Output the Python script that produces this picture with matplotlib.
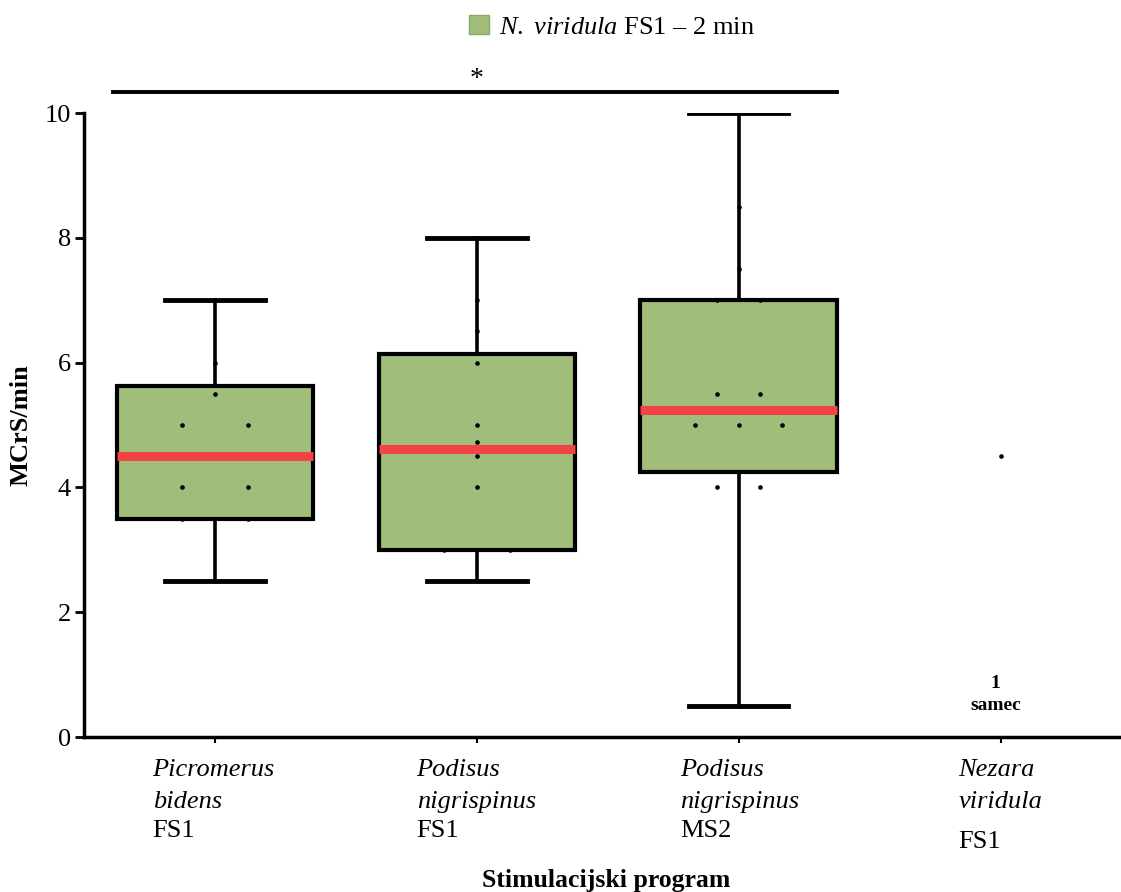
import matplotlib
matplotlib.use("Agg")
import matplotlib.pyplot as plt
import matplotlib.transforms as mtrans
from matplotlib.patches import Patch
from collections import Counter

plt.rcParams['font.family'] = ['Liberation Serif', 'DejaVu Serif']
plt.rcParams['mathtext.fontset'] = 'custom'
plt.rcParams['mathtext.rm'] = 'Liberation Serif'
plt.rcParams['mathtext.it'] = 'Liberation Serif:italic'
plt.rcParams['mathtext.bf'] = 'Liberation Serif:bold'

# ---- data ----
cat_line1 = ["Picromerus", "Podisus", "Podisus", "Nezara"]
cat_line2 = ["bidens", "nigrispinus", "nigrispinus", "viridula"]
cat_line3 = ["FS1", "FS1", "MS2", "FS1"]

whislo = [2.5, 2.5, 0.5]
q1 = [3.5, 3.0, 4.25]
med = [4.5, 4.62, 5.24]
q3 = [5.63, 6.14, 7.0]
whishi = [7.0, 8.0, 10.0]

points_g1 = [2.5, 3.5, 3.5, 4, 4, 5, 5, 5.5, 6, 7]
points_g2 = [2.5, 3.0, 3.0, 4, 4.5, 4.73, 5, 6, 6.5, 7, 8]
points_g3 = [0.5, 4, 4, 5, 5, 5, 5.5, 5.5, 7, 7, 7.5, 8.5, 10]
points_g4 = [4.5]

legend_label = r"$\mathit{N.\ viridula}$ FS1 – 2 min"
ylabel = "MCrS/min"
xlabel = "Stimulacijski program"
note_1 = "1"
note_2 = "samec"

FS = 19

# ---- figure ----
fig = plt.figure(figsize=(11.21, 8.92), dpi=100)
ax = fig.add_axes([84/1121, (892-737)/892, (1121-84)/1121, (737-113)/892])

stats = []
for i in range(3):
    stats.append(dict(whislo=whislo[i], q1=q1[i], med=med[i], q3=q3[i],
                      whishi=whishi[i], fliers=[]))

green = '#A0BD7A'
ax.bxp(stats, positions=[0, 1, 2], widths=0.75, patch_artist=True,
       showfliers=False,
       boxprops=dict(facecolor=green, edgecolor='black', linewidth=3),
       medianprops=dict(color='#F24444', linewidth=6.5, solid_capstyle='butt'),
       whiskerprops=dict(color='black', linewidth=2.6),
       capprops=dict(color='black', linewidth=3.5),
       capwidths=0.38, zorder=2)

spacings = [0.25, 0.25, 0.165, 0.25]
for pos, (pts, sp) in enumerate(zip([points_g1, points_g2, points_g3, points_g4], spacings)):
    counts = Counter(pts)
    seen = Counter()
    xs, ys = [], []
    for v in pts:
        n = counts[v]
        k = seen[v]
        seen[v] += 1
        xs.append(pos + (k - (n - 1) / 2) * sp)
        ys.append(v)
    ax.scatter(xs, ys, s=11, color='black', zorder=4, linewidths=0)

ax.set_xlim(-0.5, 3.46)
ax.set_ylim(0, 10)
ax.set_yticks([0, 2, 4, 6, 8, 10])
ax.tick_params(axis='y', labelsize=FS, length=6.5, width=2, direction='out', pad=3)
ax.set_xticks([0, 1, 2, 3])
ax.set_xticklabels([])
ax.tick_params(axis='x', length=4, width=1.5, direction='out')
for s in ['top', 'right']:
    ax.spines[s].set_visible(False)
ax.spines['left'].set_linewidth(2.5)
ax.spines['bottom'].set_linewidth(2.5)

ax.set_ylabel(ylabel, fontsize=FS, fontweight='bold')
ax.yaxis.set_label_coords((33 - 84) / 1037, 0.5)

fig.text(606/1121, 1 - 880/892, xlabel, fontsize=18.5, fontweight='bold',
         ha='center', va='center')

# category labels
trans = mtrans.blended_transform_factory(ax.transData, fig.transFigure)
offsets = [-0.238, -0.23, -0.225, -0.16]
for i in range(4):
    x = i + offsets[i]
    ax.text(x, 1 - 770/892, cat_line1[i], transform=trans, fontsize=FS,
            style='italic', ha='left', va='center')
    ax.text(x, 1 - 802/892, cat_line2[i], transform=trans, fontsize=FS,
            style='italic', ha='left', va='center')
    y3 = 842 if i == 3 else 831
    ax.text(x, 1 - y3/892, cat_line3[i], transform=trans, fontsize=FS,
            ha='left', va='center')

# note
ax.text(3 - 0.02, 1 - 683/892, note_1, transform=trans, fontsize=14,
        fontweight='bold', ha='center', va='center')
ax.text(3 - 0.02, 1 - 706/892, note_2, transform=trans, fontsize=14,
        fontweight='bold', ha='center', va='center')

# significance line
ax.plot([-0.39, 2.375], [10.34, 10.34], color='black', lw=2.8, clip_on=False)
ax.text(1.0, 10.53, "*", fontsize=20, ha='center', va='center')

# legend
handle = Patch(facecolor=green, edgecolor='#8AA866')
fig.legend([handle], [legend_label], loc='center', bbox_to_anchor=(612/1121, 1 - 27/892),
           frameon=False, fontsize=FS, handlelength=0.75, handleheight=0.75,
           handletextpad=0.4)

fig.savefig("out.png", dpi=100)
